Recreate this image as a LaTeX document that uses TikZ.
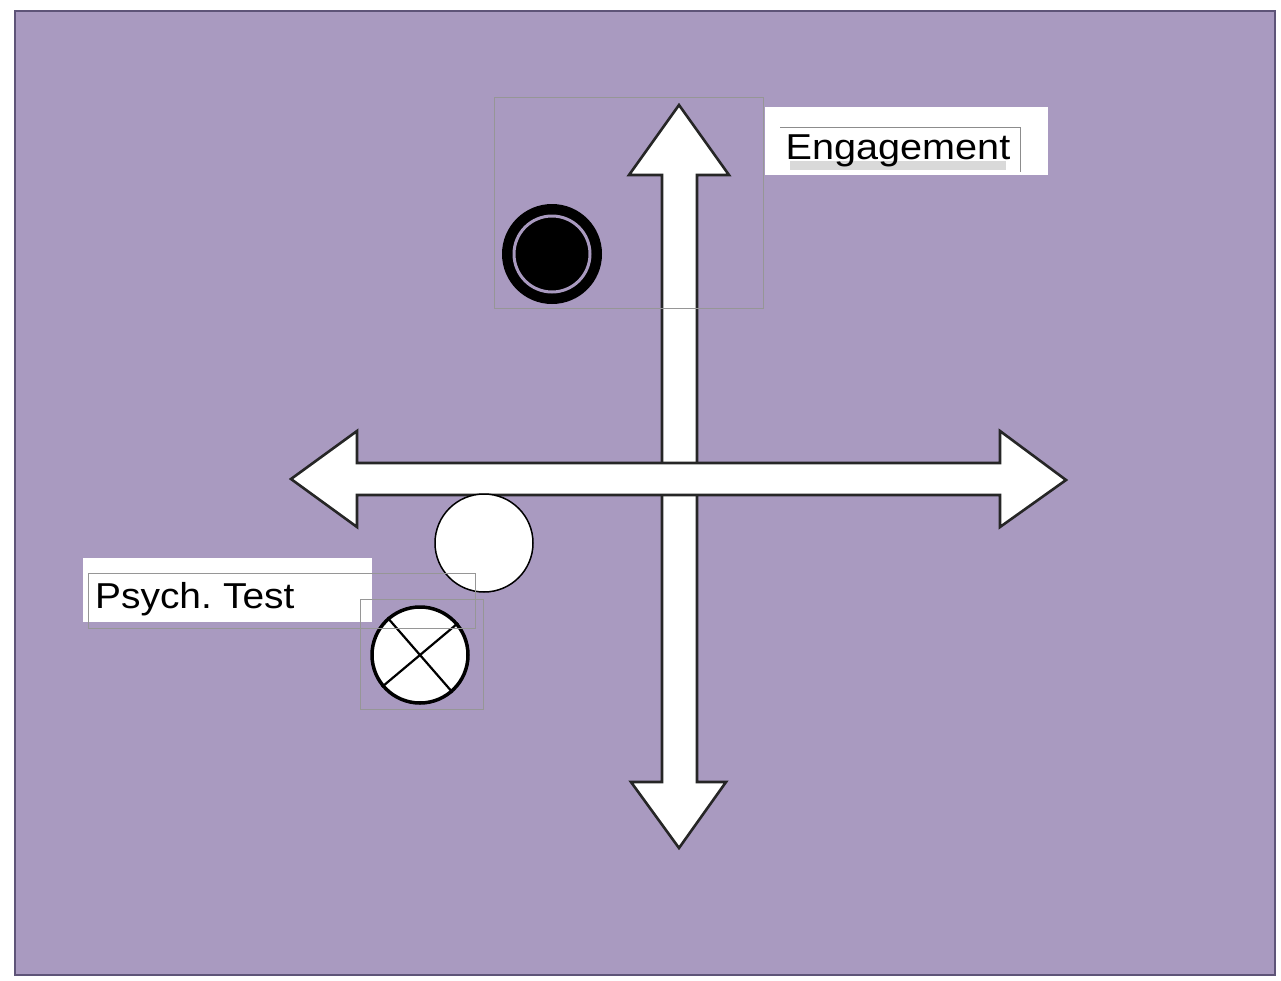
\documentclass[tikz,border=0pt]{standalone}
\usepackage{fontspec}
\setmainfont{Liberation Sans}
\definecolor{bgpurple}{RGB}{169,154,192}
\definecolor{framepurple}{RGB}{94,84,120}
\definecolor{guidegray}{RGB}{150,150,150}
\tikzset{
  arrowshape/.style={fill=white, draw=black!85, line width=2.6pt, line join=miter},
  guidebox/.style={draw=guidegray, line width=0.8pt},
  labelbox/.style={fill=white, draw=none},
  labeltext/.style={font=\fontsize{36}{40}\selectfont, text=black, inner sep=0pt},
}
\begin{document}
\begin{tikzpicture}[x=1pt,y=-1pt]
\useasboundingbox (0,0) rectangle (1281,980);
\fill[white] (0,0) rectangle (1281,980);
% background panel
\draw[fill=bgpurple, draw=framepurple, line width=2.5pt] (15,11) rectangle (1275,975);

% vertical double arrow
\draw[arrowshape] (679,105) -- (729,175) -- (697,175) -- (697,782) -- (726,782)
  -- (679,848) -- (631,782) -- (662,782) -- (662,175) -- (629,175) -- cycle;
% horizontal double arrow
\draw[arrowshape] (291,479) -- (357,431) -- (357,463) -- (1000,463) -- (1000,431)
  -- (1066,480) -- (1000,527) -- (1000,495) -- (357,495) -- (357,527) -- cycle;

% guide box at top
\draw[guidebox] (494,97) rectangle (763,308);

% double circle
\node[circle, fill=black, minimum size=100pt, inner sep=0pt] (dbl) at (552,254) {};
\draw[bgpurple, line width=3pt] (dbl.center) circle[radius=38];

% white circle
\node[circle, fill=white, draw=black, line width=1.5pt, minimum size=98pt, inner sep=0pt] (wcirc) at (484,543) {};

% Engagement label
\node[labelbox, minimum width=283pt, minimum height=68pt, anchor=north west] (engbox) at (765,107) {};
\fill[black!15] (790,161) rectangle (1006,170);
\draw[guidebox, draw=black!45] (780,127) -- (1020,127) -- (1020,172);
\node[labeltext, anchor=base] (eng) at (898,159) {\scalebox{1.1}[1]{Engagement}};

% Psych. Test label
\node[labelbox, minimum width=289pt, minimum height=64pt, anchor=north west] (psybox) at (83,558) {};
\node[labeltext, anchor=base west] (psy) at (95,608) {\scalebox{1.08}[1]{Psych.\hspace{-3pt} Test}};

% crossed circle
\node[circle, fill=white, draw=black, line width=3.5pt, minimum size=96pt, inner sep=0pt] (xcirc) at (420,655) {};
\draw[black, line width=2.2pt] (xcirc.131) -- (xcirc.311);
\draw[black, line width=2.2pt] (xcirc.40) -- (xcirc.220);

% guide boxes near Psych. Test
\draw[guidebox] (88,573) rectangle (475,628);
\draw[guidebox] (360,599) rectangle (483,709);
\end{tikzpicture}
\end{document}
